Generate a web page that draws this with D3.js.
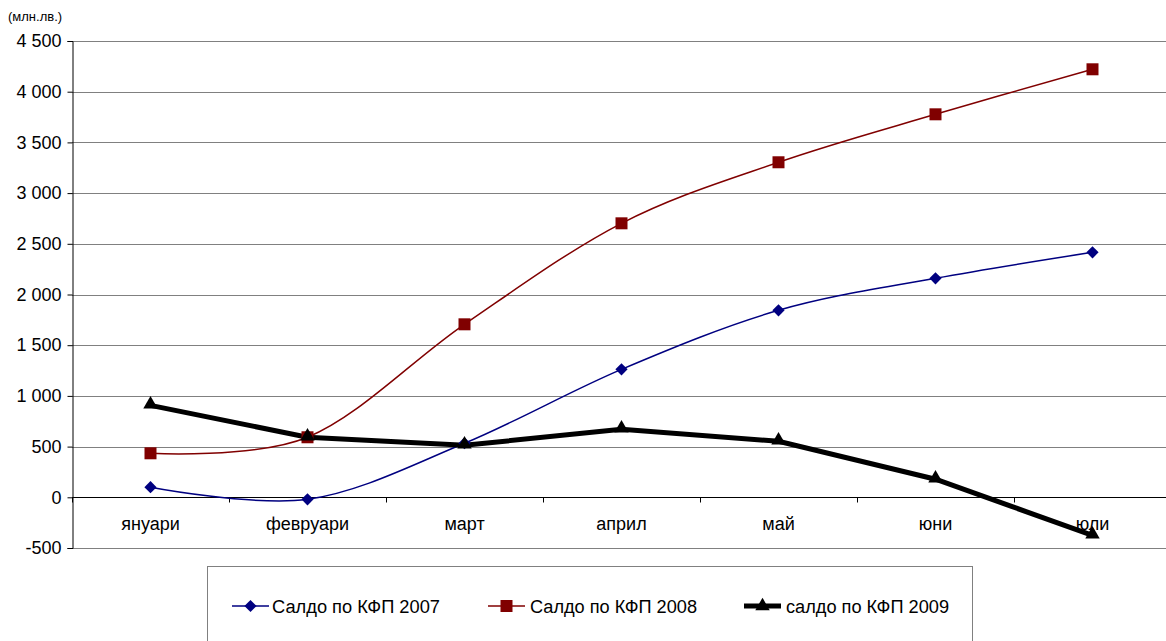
<!DOCTYPE html>
<html>
<head>
<meta charset="utf-8">
<script src="https://cdn.jsdelivr.net/npm/d3@7"></script>
<style>
body{margin:0;background:#fff;font-family:"Liberation Sans",Arial,sans-serif}
</style>
</head>
<body>
<svg id="chart" width="1166" height="641"></svg>
<script>
var months=["януари","февруари","март","април","май","юни","юли"]
var yTicks=[-500,0,500,1000,1500,2000,2500,3000,3500,4000,4500]
var s2007=[100,-20,533,1262,1844,2160,2416]
var s2008=[434,592,1706,2702,3304,3777,4221]
var s2009=[907,592,513,671,552,178,-375]
var names=["Салдо по КФП 2007","Салдо по КФП 2008","салдо по КФП 2009"]

var svg=d3.select("#chart")
var mLeft=72,mRight=1171,mTop=41,mBottom=548

var x=d3.scaleBand().domain(months).range([mLeft,mRight])
var y=d3.scaleLinear().domain([-500,4500]).range([mBottom,mTop])

//---"4 500" style, plain hyphen for negatives---
function fmt(v){ return d3.format(",")(v).replace(",","\u00a0").replace("\u2212","-") }

//---grid---
svg.append("g").selectAll("line").data(yTicks).join("line")
  .attr("x1",mLeft).attr("x2",mRight)
  .attr("y1",d=>Math.round(y(d))+0.5).attr("y2",d=>Math.round(y(d))+0.5)
  .attr("stroke",d=>d==0?"#000":"#808080").attr("stroke-width",1)

//---y axis---
var yAxis=svg.append("g").attr("transform","translate("+(mLeft+0.5)+",0)")
  .call(d3.axisLeft(y).tickValues(yTicks).tickSize(5).tickFormat(fmt))
yAxis.select(".domain").attr("stroke","#000")
yAxis.selectAll("text").attr("font-family","Liberation Sans, Arial").attr("font-size",18).attr("fill","#000").attr("dx","-3")
yAxis.selectAll("line").attr("stroke","#000")

//---x axis at zero---
var xAxis=svg.append("g").attr("transform","translate(0,"+(Math.round(y(0))+0.5)+")")
xAxis.selectAll("line").data(d3.range(months.length+1)).join("line")
  .attr("x1",i=>Math.round(mLeft+i*x.bandwidth())+0.5).attr("x2",i=>Math.round(mLeft+i*x.bandwidth())+0.5)
  .attr("y1",0).attr("y2",5).attr("stroke","#000")
xAxis.selectAll("text").data(months).join("text")
  .attr("x",d=>x(d)+x.bandwidth()/2).attr("y",32)
  .attr("text-anchor","middle").attr("font-size",18).text(d=>d)

svg.append("text").attr("x",8).attr("y",21).attr("font-size",13).text("(млн.лв.)")

var cx=d=>x(d)+x.bandwidth()/2

//---series---
function smoothLine(data,color){
  var line=d3.line().x((d,i)=>cx(months[i])).y(d=>y(d)).curve(d3.curveCatmullRom.alpha(0))
  svg.append("path").datum(data).attr("d",line).attr("fill","none").attr("stroke",color).attr("stroke-width",1.5)
}
smoothLine(s2007,"#000080")
smoothLine(s2008,"#800000")
var line09=d3.line().x((d,i)=>cx(months[i])).y(d=>y(d))
svg.append("path").datum(s2009).attr("d",line09).attr("fill","none").attr("stroke","#000").attr("stroke-width",5)

var diamond=d3.symbol().type(d3.symbolDiamond2).size(95)
var square=d3.symbol().type(d3.symbolSquare).size(144)
var tri=d3.symbol().type(d3.symbolTriangle).size(90)

svg.append("g").selectAll("path").data(s2007).join("path")
  .attr("d",diamond).attr("fill","#000080")
  .attr("transform",(d,i)=>"translate("+cx(months[i])+","+y(d)+")")
svg.append("g").selectAll("path").data(s2008).join("path")
  .attr("d",square).attr("fill","#800000")
  .attr("transform",(d,i)=>"translate("+cx(months[i])+","+y(d)+")")
svg.append("g").selectAll("path").data(s2009).join("path")
  .attr("d",tri).attr("fill","#000")
  .attr("transform",(d,i)=>"translate("+cx(months[i])+","+(y(d)-1)+")")

//---legend---
var lg=svg.append("g")
lg.append("rect").attr("x",207.5).attr("y",566.5).attr("width",765).attr("height",90)
  .attr("fill","#fff").attr("stroke","#808080")
var legItems=[
  {name:names[0],color:"#000080",sym:diamond,w:1.5,x:232,tx:272,tw:168},
  {name:names[1],color:"#800000",sym:square,w:1.5,x:488,tx:530,tw:167},
  {name:names[2],color:"#000",sym:tri,w:5,x:744,tx:786,tw:163}
]
legItems.forEach(function(it){
  lg.append("line").attr("x1",it.x).attr("x2",it.x+37).attr("y1",606).attr("y2",606)
    .attr("stroke",it.color).attr("stroke-width",it.w)
  lg.append("path").attr("d",it.sym).attr("fill",it.color)
    .attr("transform","translate("+(it.x+18.5)+",606)")
  lg.append("text").attr("x",it.tx).attr("y",613).attr("font-size",18)
    .attr("textLength",it.tw).attr("lengthAdjust","spacingAndGlyphs").text(it.name)
})
</script>
</body>
</html>
